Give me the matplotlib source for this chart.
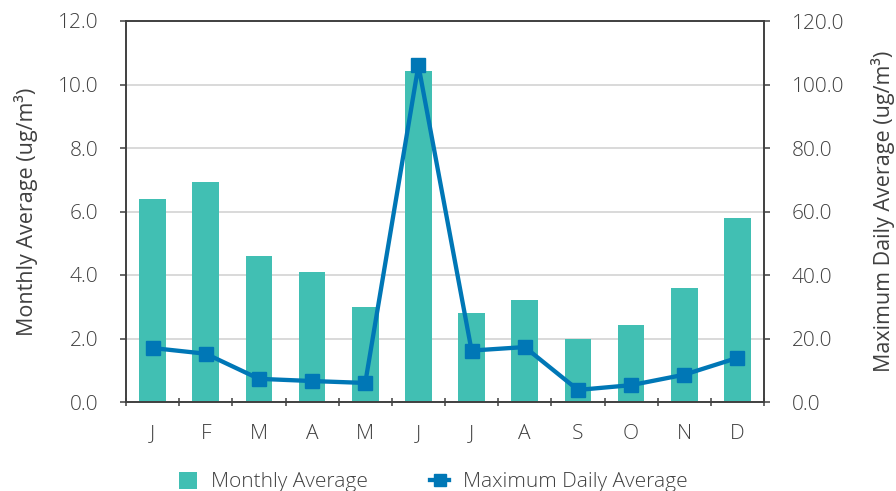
import matplotlib
matplotlib.use("Agg")
import matplotlib.pyplot as plt
from matplotlib.lines import Line2D
from matplotlib.patches import Patch

months = ["J", "F", "M", "A", "M", "J", "J", "A", "S", "O", "N", "D"]
monthly_avg = [6.38, 6.92, 4.59, 4.08, 2.98, 10.41, 2.79, 3.20, 1.97, 2.41, 3.58, 5.78]
max_daily = [17.0, 15.2, 7.3, 6.6, 6.0, 106.0, 16.2, 17.3, 3.8, 5.3, 8.6, 13.9]
left_ticks = [0, 2, 4, 6, 8, 10, 12]
right_ticks = [0, 20, 40, 60, 80, 100, 120]

plt.rcParams['font.family'] = ['Open Sans', 'DejaVu Sans']
plt.rcParams['font.weight'] = 'light'
TXT = '#404040'
BAR = '#41BFB3'
LINE = '#0077B6'
FS = 15

W, H = 896, 491
L, R, T, B = 126, 764, 21, 402
fig = plt.figure(figsize=(W/100, H/100), dpi=100)
ax = fig.add_axes([L/W, 1 - B/H, (R-L)/W, (B-T)/H])
x = list(range(len(months)))
ax.bar(x, monthly_avg, width=0.5, color=BAR, zorder=2)
ax.set_xlim(-0.5, 11.5)
ax.set_ylim(0, 12)
ax.set_yticks(left_ticks)
ax.set_yticklabels([f"{v:.1f}" for v in left_ticks])
ax.yaxis.grid(True, color='#D0D0D0', linewidth=1.1, zorder=0)
ax.set_axisbelow(True)
ax.set_xticks(x)
ax.set_xticklabels(months)
ax.set_xticks([i + 0.5 for i in range(-1, 12)], minor=True)
ax.tick_params(axis='x', which='major', length=0, pad=16, labelsize=FS, labelcolor=TXT)
ax.tick_params(axis='x', which='minor', length=6, direction='inout', color=TXT, width=1.1)
ax.tick_params(axis='y', length=4, direction='out', labelsize=FS, labelcolor=TXT, color=TXT, pad=16, width=1.1)
for s in ['left', 'bottom', 'right', 'top']:
    ax.spines[s].set_color(TXT)
    ax.spines[s].set_linewidth(1.2)
ax.set_ylabel("Monthly Average (ug/m³)", fontsize=15.5, color=TXT)
ax.yaxis.label.set_va('center')
ax.yaxis.set_label_coords((26 - L) / (R - L), 0.5)

ax2 = ax.twinx()
ax2.plot(x, max_daily, color=LINE, linewidth=3.1, marker='s', markersize=10.5, zorder=3)
ax2.set_ylim(0, 120)
ax2.set_yticks(right_ticks)
ax2.set_yticklabels([f"{v:.1f}" for v in right_ticks])
ax2.tick_params(axis='y', length=4, direction='out', labelsize=FS, labelcolor=TXT, color=TXT, pad=16, width=1.1)
for s in ['left', 'bottom', 'right', 'top']:
    ax2.spines[s].set_color(TXT)
    ax2.spines[s].set_linewidth(1.2)
ax2.set_ylabel("Maximum Daily Average (ug/m³)", fontsize=15.5, color=TXT)
ax2.yaxis.label.set_va('center')
ax2.yaxis.set_label_coords((883 - L) / (R - L), 0.5)

handles = [Patch(facecolor=BAR, edgecolor='none', label='Monthly Average'),
           Line2D([0], [0], color=LINE, linewidth=3.1, marker='s', markersize=8,
                  label='Maximum Daily Average')]
leg = fig.legend(handles=handles, loc='center', bbox_to_anchor=(433/W, 1 - 482/H),
                 ncol=2, frameon=False, fontsize=FS, labelcolor=TXT,
                 handlelength=0.9, handleheight=0.9, columnspacing=3.0, handletextpad=0.65)
fig.savefig("out.png", dpi=100)
